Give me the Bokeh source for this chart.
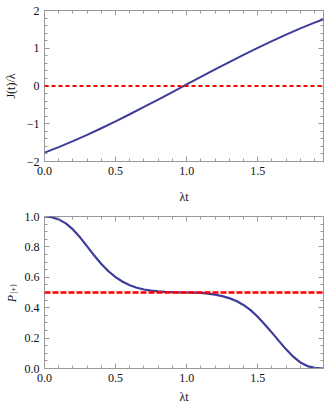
from bokeh.plotting import figure
from bokeh.layouts import column
from bokeh.models import (Range1d, SingleIntervalTicker, FixedTicker,
                          PrintfTickFormatter, CustomJSTickFormatter,
                          LinearAxis, Span)
from bokeh.embed import file_html
from bokeh.resources import INLINE

# ---- data ----
tJ = [0.0, 0.1, 0.2, 0.3, 0.4, 0.5, 0.6, 0.7, 0.8, 0.9, 1.0,
      1.1, 1.2, 1.3, 1.4, 1.5, 1.6, 1.7, 1.8, 1.9, 1.963]
J_vals = [-1.765, -1.618, -1.461, -1.294, -1.119, -0.937, -0.748, -0.555,
          -0.359, -0.160, 0.040, 0.240, 0.438, 0.633, 0.824, 1.010, 1.190,
          1.362, 1.525, 1.679, 1.769]
tP = [0.00, 0.05, 0.10, 0.15, 0.20, 0.25, 0.30, 0.35, 0.40, 0.45, 0.50,
      0.55, 0.60, 0.65, 0.70, 0.75, 0.80, 0.85, 0.90, 0.95, 1.00,
      1.05, 1.10, 1.15, 1.20, 1.25, 1.30, 1.35, 1.40, 1.45, 1.50,
      1.55, 1.60, 1.65, 1.70, 1.75, 1.80, 1.85, 1.90, 1.963]
P_vals = [1.000, 0.995, 0.981, 0.955, 0.915, 0.863, 0.803, 0.743, 0.688,
          0.640, 0.601, 0.571, 0.548, 0.531, 0.520, 0.512, 0.507, 0.504,
          0.5015, 0.5003, 0.500,
          0.4993, 0.497, 0.493, 0.486, 0.476, 0.463, 0.444, 0.418, 0.384,
          0.340, 0.290, 0.236, 0.180, 0.126, 0.078, 0.040, 0.016, 0.004,
          0.000]
J_ref = 0.0
P_ref = 0.5
x_max = 1.963
x_label = "λt"
J_label = "J(t)/λ"
P_main = "P"
P_sub = "|+⟩"

FONT = "Liberation Serif"
BLUE = "#3d3d99"
FRAME = "#9a9a9a"
TXT = "#111111"
NB = "\u00a0"


def blank_axis(ticker, tick_in):
    ax = LinearAxis(ticker=ticker,
                    formatter=CustomJSTickFormatter(code="return '';"))
    ax.axis_line_color = None
    ax.major_tick_line_color = FRAME
    ax.minor_tick_line_color = FRAME
    ax.major_tick_in = tick_in
    ax.major_tick_out = 0
    ax.minor_tick_in = 3 if tick_in else 0
    ax.minor_tick_out = 0
    ax.major_label_standoff = 0
    ax.major_label_text_font_size = "1px"
    return ax


def style(p, yticker, yfmt, xlabel, ylabel):
    xticker = SingleIntervalTicker(interval=0.5, num_minor_ticks=5)
    xa = p.below[0]
    ya = p.left[0]
    xa.ticker = xticker
    ya.ticker = yticker
    xa.formatter = PrintfTickFormatter(format="%.1f")
    ya.formatter = yfmt
    for ax in (xa, ya):
        ax.axis_line_color = FRAME
        ax.major_tick_line_color = FRAME
        ax.minor_tick_line_color = FRAME
        ax.major_tick_in = 5
        ax.major_tick_out = 0
        ax.minor_tick_in = 3
        ax.minor_tick_out = 0
        ax.major_label_text_font = FONT
        ax.major_label_text_font_size = "12px"
        ax.major_label_text_color = TXT
        ax.axis_label_text_font = FONT
        ax.axis_label_text_font_size = "12px"
        ax.axis_label_text_font_style = "normal"
        ax.axis_label_text_color = TXT
        ax.major_label_standoff = 5
    xa.axis_label = xlabel
    ya.axis_label = ylabel
    # mirrored ticks on the top and right frame edges (no labels)
    p.add_layout(blank_axis(xticker, 5), "above")
    p.add_layout(blank_axis(yticker, 5), "right")
    p.outline_line_color = FRAME
    p.outline_line_alpha = 1.0
    p.xgrid.visible = False
    p.ygrid.visible = False
    p.background_fill_color = "white"
    p.border_fill_color = "white"
    return xa, ya


# ---- top figure ----
p1 = figure(width=324, height=206, output_backend="svg", toolbar_location=None,
            x_range=Range1d(0, x_max), y_range=Range1d(-2, 2),
            min_border_left=34, min_border_right=1, min_border_top=10,
            min_border_bottom=41)
xa1, ya1 = style(p1, SingleIntervalTicker(interval=1, num_minor_ticks=5),
                 CustomJSTickFormatter(
                     code="return tick.toFixed(0).replace('-', '\\u2212');"),
                 x_label, J_label)
xa1.axis_label_standoff = 12
ya1.axis_label_standoff = 6
p1.add_layout(Span(location=J_ref, dimension="width", line_color="red",
                   line_dash="4 3", line_width=2))
p1.line(tJ, J_vals, line_color=BLUE, line_width=2)

# ---- bottom figure ----
p2 = figure(width=324, height=200, output_backend="svg", toolbar_location=None,
            x_range=Range1d(0, x_max), y_range=Range1d(0, 1),
            min_border_left=36, min_border_right=0, min_border_top=10,
            min_border_bottom=36)
xa2, ya2 = style(p2, SingleIntervalTicker(interval=0.2, num_minor_ticks=4),
                 PrintfTickFormatter(format="%.1f"), x_label,
                 NB * 4 + P_sub)
xa2.axis_label_standoff = 5
ya2.axis_label_text_font_size = "8px"
ya2.axis_label_standoff = 4
# outer axis carrying the italic "P" of the y label
pax = blank_axis(FixedTicker(ticks=[]), 0)
pax.axis_label = P_main + NB * 4
pax.axis_label_text_font = FONT
pax.axis_label_text_font_size = "12px"
pax.axis_label_text_font_style = "italic"
pax.axis_label_text_color = TXT
pax.axis_label_standoff = -13
p2.add_layout(pax, "left")
p2.add_layout(Span(location=P_ref, dimension="width", line_color="red",
                   line_dash="6 2", line_width=2.5))
p2.line(tP, P_vals, line_color=BLUE, line_width=2.2)

layout = column(p1, p2, spacing=0)
open("out.html", "w").write(file_html(layout, INLINE))
